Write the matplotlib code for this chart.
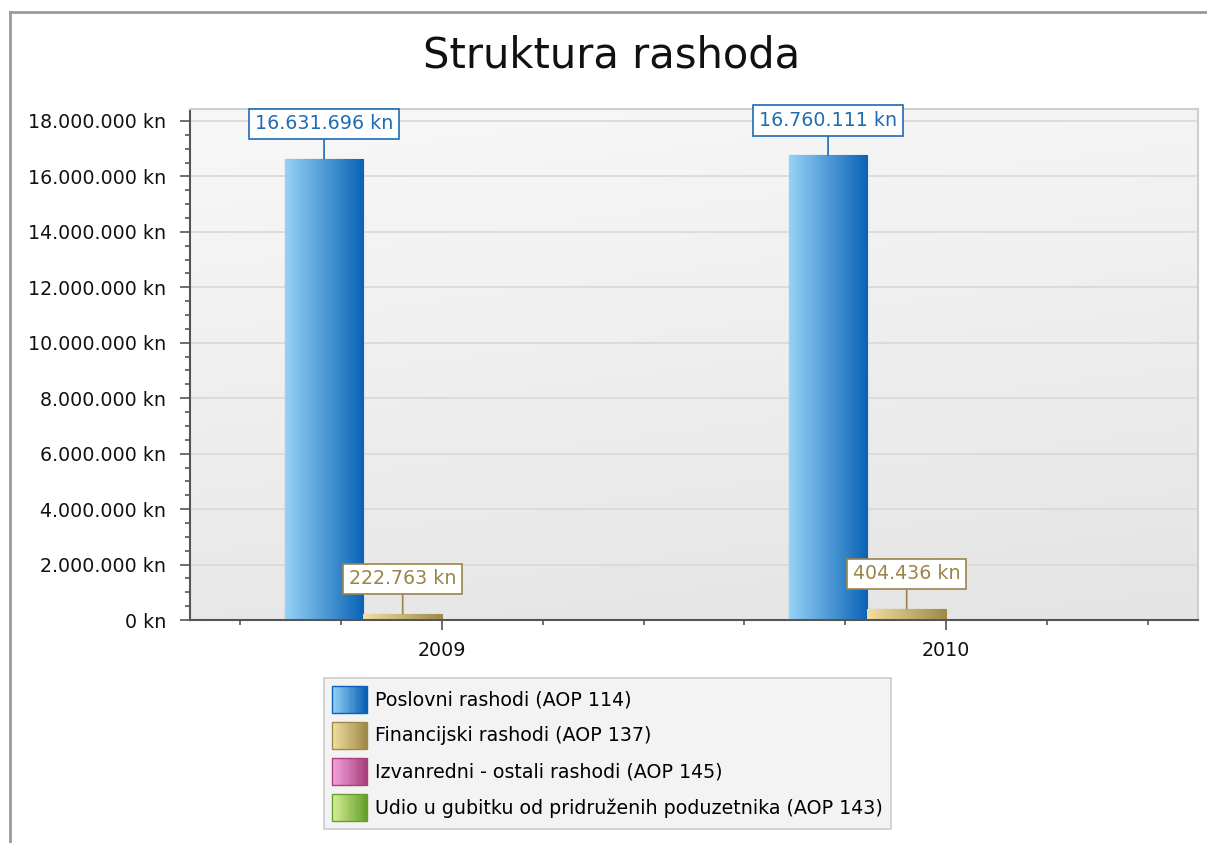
import numpy as np
import matplotlib
matplotlib.use("Agg")
import matplotlib.pyplot as plt
from matplotlib.lines import Line2D
from matplotlib.patches import Rectangle
from matplotlib.legend_handler import HandlerBase
from matplotlib.colors import LinearSegmentedColormap, to_rgb

# podaci
godine = ["2009", "2010"]
serije = [
    "Poslovni rashodi (AOP 114)",
    "Financijski rashodi (AOP 137)",
    "Izvanredni - ostali rashodi (AOP 145)",
    "Udio u gubitku od pridruženih poduzetnika (AOP 143)",
]
poslovni = [16631696, 16760111]
financijski = [222763, 404436]
izvanredni = [0, 0]
udio = [0, 0]
vrijednosti = [poslovni, financijski, izvanredni, udio]

# boje gradijenta (svijetla, tamna) i boja natpisa
gradijenti = [("#95d3f7", "#0a62b6"), ("#f2e0a0", "#a08a4a"),
              ("#f5a6e0", "#a8407a"), ("#d8f09a", "#66a02a")]
boje_natpisa = ["#1e6cb4", "#9a844c", "#a8407a", "#66a02a"]

FS = 13.7


def fmt_kn(v):
    return f"{int(v):,}".replace(",", ".") + " kn"


fig = plt.figure(figsize=(12.07, 8.43), dpi=100)
W, H = 1207, 843
ax = fig.add_axes([190 / W, 1 - 620 / H, (1198 - 190) / W, (620 - 109) / H])

# pozadina crteza (svjetlije gore lijevo)
yy = np.linspace(0, 1, 256).reshape(-1, 1)
xx = np.linspace(0, 1, 256).reshape(1, -1)
bg = yy * 0.8 + (1 - xx) * 0.2
bg_cmap = LinearSegmentedColormap.from_list("bg", ["#e4e4e4", "#f8f8f8"])
ax.imshow(bg, extent=[0, 1, 0, 1], transform=ax.transAxes, cmap=bg_cmap,
          aspect="auto", zorder=0, origin="lower")

x = np.arange(len(godine))
sirina = 0.156
pomaci = (np.arange(len(serije)) - 1.5) * sirina

for i, (ime, vals) in enumerate(zip(serije, vrijednosti)):
    svijetla, tamna = gradijenti[i]
    bars = ax.bar(x + pomaci[i], vals, width=sirina, color=tamna,
                  edgecolor=tamna, linewidth=0.8, zorder=2, label=ime)
    cmap = LinearSegmentedColormap.from_list("g%d" % i, [svijetla, tamna])
    for b, v in zip(bars, vals):
        if v <= 0:
            continue
        x0, y0 = b.get_x(), b.get_y()
        im = ax.imshow(np.linspace(0, 1, 256).reshape(1, -1), cmap=cmap,
                       extent=[x0, x0 + b.get_width(), y0, y0 + b.get_height()],
                       aspect="auto", zorder=2.5)
        im.set_clip_path(b)
        ax.annotate(fmt_kn(v), xy=(b.get_x() + b.get_width() / 2, v),
                    xytext=(0, 35), textcoords="offset pixels",
                    ha="center", va="center", fontsize=FS,
                    color=boje_natpisa[i], zorder=5,
                    bbox=dict(boxstyle="square,pad=0.3", fc="white",
                              ec=boje_natpisa[i], lw=1.2),
                    arrowprops=dict(arrowstyle="-", color=boje_natpisa[i],
                                    lw=1.2, shrinkA=0, shrinkB=0))

ax.set_xlim(-0.5, 1.5)
ax.set_ylim(0, 18.43e6)

ax.set_yticks(np.arange(0, 18e6 + 1, 2e6))
ax.set_yticklabels([fmt_kn(v) for v in np.arange(0, 18e6 + 1, 2e6)], fontsize=FS)
ax.set_yticks(np.arange(0, 18e6 + 1, 5e5), minor=True)
ax.set_xticks(x)
ax.set_xticklabels(godine, fontsize=FS)
ax.set_xticks(np.arange(-0.4, 1.45, 0.2), minor=True)

ax.tick_params(axis="both", which="major", length=7, width=1.2, color="#555555",
               labelcolor="#111111", pad=10)
ax.tick_params(axis="both", which="minor", length=3.6, width=1.2, color="#555555")
ax.tick_params(axis="x", which="major", pad=8)

ax.set_axisbelow(True)
ax.yaxis.grid(True, color="#d8d8d8", lw=1.2, zorder=0.5)

for s in ["top", "right"]:
    ax.spines[s].set_color("#cfcfcf")
    ax.spines[s].set_linewidth(1.5)
for s in ["left", "bottom"]:
    ax.spines[s].set_color("#555555")
    ax.spines[s].set_linewidth(1.5)

# naslov
fig.text(612 / W, 1 - 55 / H, "Struktura rashoda", ha="center", va="center",
         fontsize=30, color="#111111")

# vanjski okvir
fig.add_artist(Line2D([10 / W, 1], [1 - 12 / H, 1 - 12 / H], color="#9a9a9a", lw=2))
fig.add_artist(Line2D([10 / W, 10 / W], [0, 1 - 12 / H], color="#9a9a9a", lw=2))


class GradientHandler(HandlerBase):
    def __init__(self, c1, c2):
        super().__init__()
        self.c1, self.c2 = np.array(to_rgb(c1)), np.array(to_rgb(c2))

    def create_artists(self, legend, orig_handle, xdescent, ydescent,
                       width, height, fontsize, trans):
        arts = []
        n = 30
        for k in range(n):
            c = self.c1 + (self.c2 - self.c1) * k / (n - 1)
            arts.append(Rectangle((-xdescent + width * k / n, -ydescent),
                                  width / n + 0.3, height, fc=c, ec="none",
                                  transform=trans))
        arts.append(Rectangle((-xdescent, -ydescent), width, height, fc="none",
                              ec=self.c2, lw=1, transform=trans))
        return arts


handles = [Rectangle((0, 0), 1, 1) for _ in serije]
hmap = {h: GradientHandler(*gradijenti[i]) for i, h in enumerate(handles)}
leg = fig.legend(handles, serije, handler_map=hmap, loc="upper left",
                 bbox_to_anchor=(324 / W, 1 - 678 / H), fontsize=FS,
                 handlelength=1.84, handleheight=1.81, labelspacing=0.48,
                 handletextpad=0.45, borderpad=0.4, borderaxespad=0,
                 fancybox=False, frameon=True)
leg.get_frame().set_facecolor("#f3f3f3")
leg.get_frame().set_edgecolor("#cccccc")
leg.get_frame().set_linewidth(1.2)
leg.get_frame().set_alpha(1)

fig.savefig("out.png", dpi=100)
